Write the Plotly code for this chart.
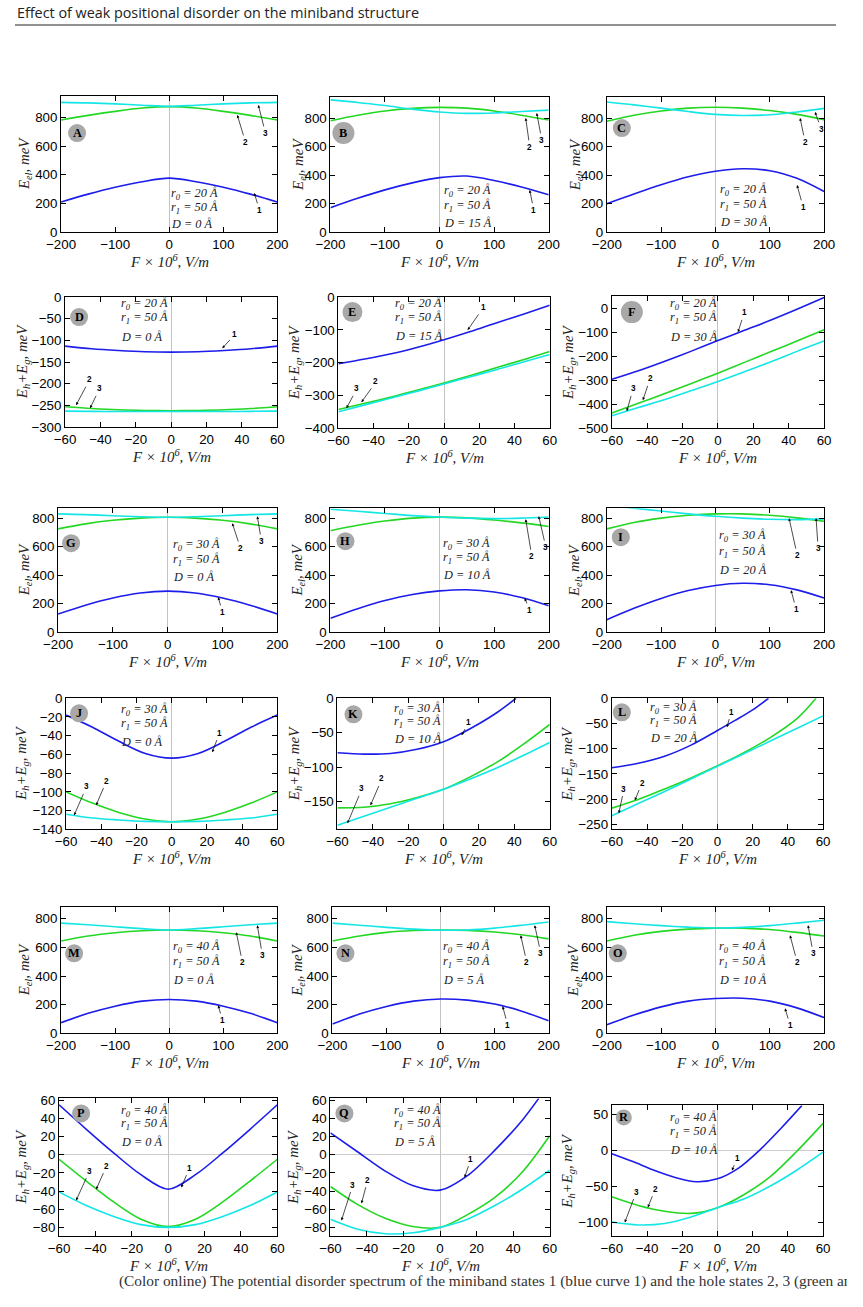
import plotly.graph_objects as go

# figure size (the page adds its own margin around it)
W, H = 847, 1289
# measured mapping between figure pixels and the photographed picture
SX, OXP = 0.968, 16.0
SY, OYP = 0.988, 7.0
FS = 1.025  # font compensation

# ---------------- data ----------------
X_EL = [-200, -150, -100, -50, 0, 50, 100, 150, 200]
X_H = [-60, -45, -30, -15, 0, 15, 30, 45, 60]

A1 = [210, 265, 313, 352, 377, 352, 313, 265, 210]
A2 = [783, 815, 843, 866, 876, 866, 843, 815, 783]
A3 = [906, 902, 895, 886, 878, 886, 895, 902, 906]

B1 = [172, 238, 297, 346, 383, 394, 363, 317, 262]
B2 = [783, 822, 852, 870, 877, 872, 852, 822, 788]
B3 = [930, 912, 890, 865, 845, 835, 838, 848, 858]

C1 = [200, 268, 333, 389, 428, 445, 432, 378, 285]
C2 = [780, 822, 852, 872, 878, 872, 855, 828, 790]
C3 = [915, 895, 872, 848, 828, 820, 825, 845, 870]

D1 = [-113, -119, -123, -126, -127, -126, -123, -119, -113]
D2 = [-253, -257, -260, -261.5, -262, -261.5, -260, -257, -253]
D3 = [-263, -263.5, -264, -264, -264, -264, -264, -263.5, -263]

E1 = [-203, -189, -173, -153, -130, -105, -78, -52, -25]
E2 = [-343, -324, -305, -284, -262, -239, -215, -191, -166]
E3 = [-350, -329, -308, -287, -265, -243, -221, -198, -175]

F1 = [-296, -260, -220, -178, -134, -91, -48, -2, 46]
F2 = [-437, -396, -355, -313, -270, -225, -180, -135, -89]
F3 = [-448, -414, -380, -343, -305, -264, -222, -178, -136]

G1 = [128, 190, 240, 275, 288, 275, 240, 190, 128]
G2 = [725, 760, 785, 800, 806, 800, 785, 760, 725]
G3 = [830, 825, 817, 810, 806, 810, 817, 825, 830]

H1 = [98, 165, 222, 265, 290, 298, 282, 243, 185]
H2 = [712, 750, 780, 800, 807, 802, 787, 767, 742]
H3 = [862, 848, 833, 818, 808, 800, 797, 800, 808]

I1 = [88, 168, 237, 292, 328, 343, 333, 297, 240]
I2 = [725, 770, 800, 820, 830, 830, 820, 802, 778]
I3 = [890, 870, 850, 830, 813, 800, 792, 790, 795]

J1 = [-18, -31, -46, -59, -64, -59, -46, -31, -18]
J2 = [-100, -112, -122, -129, -132, -129, -122, -112, -100]
J3 = [-124, -128, -130, -131.5, -132, -131.5, -130, -128, -124]

K_X1 = [-60, -45, -30, -15, 0, 10, 20, 30, 41]
K1 = [-79, -81, -80, -74, -63, -51, -37, -21, 0]
K2 = [-159, -158, -153, -144, -132, -114, -93, -67, -38]
K3 = [-184, -171, -158, -145, -132, -117, -101, -83, -64]

L_X1 = [-60, -45, -30, -15, 0, 10, 20, 29]
L1 = [-138, -129, -115, -93, -64, -44, -23, 0]
L_X2 = [-60, -45, -30, -15, 0, 15, 30, 45, 56]
L2 = [-218, -201, -180, -158, -134, -108, -78, -41, 0]
L3 = [-233, -209, -185, -160, -135, -110, -85, -60, -35]

M1 = [75, 140, 190, 225, 237, 225, 190, 140, 75]
M2 = [645, 680, 703, 717, 722, 717, 703, 680, 645]
M3 = [770, 758, 744, 731, 722, 731, 744, 758, 770]

N1 = [65, 135, 188, 225, 240, 232, 205, 155, 88]
N2 = [645, 680, 705, 718, 722, 719, 708, 688, 660]
N3 = [770, 755, 740, 728, 720, 722, 735, 755, 778]

O1 = [60, 128, 185, 225, 243, 245, 225, 178, 110]
O2 = [645, 685, 712, 728, 735, 735, 725, 705, 680]
O3 = [780, 765, 752, 742, 736, 740, 752, 770, 790]

P1 = [55, 28, 2, -22, -38, -22, 2, 28, 55]
P2 = [-5, -29, -52, -71, -79, -71, -52, -29, -5]
P3 = [-41, -56, -68, -77, -80, -77, -68, -56, -41]

Q_X1 = [-60, -45, -30, -15, 0, 15, 30, 45, 54]
Q1 = [24, 3, -18, -34, -39, -23, 5, 38, 62]
Q2 = [-35, -55, -70, -79, -80, -66, -47, -19, 21]
Q3 = [-71, -82, -87, -86, -80, -71, -56, -38, -17]

R_X1 = [-60, -48, -36, -24, -12, 0, 12, 24, 36, 48]
R1 = [-5, -16, -28, -38, -44, -40, -25, 0, 30, 62]
R2 = [-65, -77, -85, -88, -80, -62, -37, -2, 37]
R3 = [-100, -104, -102, -93, -80, -68, -50, -28, -3]

PANEL_LETTERS = list("ABCDEFGHIJKLMNOPQR")
R0_VALUES = [20, 20, 20, 20, 20, 20, 30, 30, 30, 30, 30, 30, 40, 40, 40, 40, 40, 40]
R1_VALUES = [50] * 18
D_VALUES = [0, 15, 30, 0, 15, 30, 0, 10, 20, 0, 10, 20, 0, 5, 10, 0, 5, 10]

TITLE = "Effect of weak positional disorder on the miniband structure"
CAPTION = ("(Color online) The potential disorder spectrum of the miniband states 1 "
           "(blue curve 1) and the hole states 2, 3 (green and cyan")

# ---------------- styling ----------------
BLUE = "rgb(28,28,235)"
GREEN = "rgb(35,215,35)"
CYAN = "rgb(20,230,230)"
COLORS = [BLUE, GREEN, CYAN]


def fx(x):
    return (x - OXP) / SX


def fy(y):
    return (y - OYP) / SY


def px(x):
    return fx(x) / W


def py(y):
    return 1 - fy(y) / H


panels = [
    dict(box=(62, 278, 96, 232), xr=[-200, 200], yr=[0, 950], dx=100, dy=200, kind="el",
         curves=[(X_EL, A1), (X_EL, A2), (X_EL, A3)]),
    dict(box=(331, 549, 97, 232), xr=[-200, 200], yr=[0, 950], dx=100, dy=200, kind="el",
         curves=[(X_EL, B1), (X_EL, B2), (X_EL, B3)]),
    dict(box=(607, 824, 97, 232), xr=[-200, 200], yr=[0, 950], dx=100, dy=200, kind="el",
         curves=[(X_EL, C1), (X_EL, C2), (X_EL, C3)]),
    dict(box=(66, 278, 297, 427), xr=[-60, 60], yr=[-300, 0], dx=20, dy=50, kind="h",
         curves=[(X_H, D1), (X_H, D2), (X_H, D3)]),
    dict(box=(339, 550, 297, 428), xr=[-60, 60], yr=[-400, 0], dx=20, dy=100, kind="h",
         curves=[(X_H, E1), (X_H, E2), (X_H, E3)]),
    dict(box=(612, 824, 296, 428), xr=[-60, 60], yr=[-500, 52], dx=20, dy=100, kind="h",
         curves=[(X_H, F1), (X_H, F2), (X_H, F3)]),
    dict(box=(59, 278, 508, 632), xr=[-200, 200], yr=[0, 870], dx=100, dy=200, kind="el",
         curves=[(X_EL, G1), (X_EL, G2), (X_EL, G3)]),
    dict(box=(331, 549, 508, 632), xr=[-200, 200], yr=[0, 870], dx=100, dy=200, kind="el",
         curves=[(X_EL, H1), (X_EL, H2), (X_EL, H3)]),
    dict(box=(607, 824, 508, 632), xr=[-200, 200], yr=[0, 870], dx=100, dy=200, kind="el",
         curves=[(X_EL, I1), (X_EL, I2), (X_EL, I3)]),
    dict(box=(67, 278, 698, 829), xr=[-60, 60], yr=[-140, 0], dx=20, dy=20, kind="h",
         curves=[(X_H, J1), (X_H, J2), (X_H, J3)]),
    dict(box=(338, 550, 698, 829), xr=[-60, 60], yr=[-190, 0], dx=20, dy=50, kind="h",
         curves=[(K_X1, K1), (X_H, K2), (X_H, K3)]),
    dict(box=(612, 823, 698, 829), xr=[-60, 60], yr=[-260, 0], dx=20, dy=50, kind="h",
         curves=[(L_X1, L1), (L_X2, L2), (X_H, L3)]),
    dict(box=(62, 278, 907, 1033), xr=[-200, 200], yr=[0, 880], dx=100, dy=200, kind="el",
         curves=[(X_EL, M1), (X_EL, M2), (X_EL, M3)]),
    dict(box=(333, 549, 907, 1033), xr=[-200, 200], yr=[0, 880], dx=100, dy=200, kind="el",
         curves=[(X_EL, N1), (X_EL, N2), (X_EL, N3)]),
    dict(box=(607, 824, 907, 1033), xr=[-200, 200], yr=[0, 880], dx=100, dy=200, kind="el",
         curves=[(X_EL, O1), (X_EL, O2), (X_EL, O3)]),
    dict(box=(60, 278, 1098, 1236), xr=[-60, 60], yr=[-90, 62], dx=20, dy=20, kind="h", hz=True,
         curves=[(X_H, P1), (X_H, P2), (X_H, P3)]),
    dict(box=(331, 550, 1098, 1236), xr=[-60, 60], yr=[-90, 62], dx=20, dy=20, kind="h", hz=True,
         curves=[(Q_X1, Q1), (X_H, Q2), (X_H, Q3)]),
    dict(box=(612, 823, 1105, 1236), xr=[-60, 60], yr=[-120, 62], dx=20, dy=50, kind="h", hz=True,
         curves=[(R_X1, R1), (X_H, R2), (X_H, R3)]),
]

label_pos = [
    [(260, 210, 255, 193), (246, 142, 238, 115), (266, 133, 259, 105)],
    [(534, 210, 530, 190), (530, 147, 526, 118), (542, 140, 537, 113)],
    [(803, 207, 797, 185), (805, 142, 800, 118), (821, 129, 815, 112)],
    [(235, 335, 223, 348), (90, 380, 77, 405), (100, 389, 91, 408)],
    [(483, 308, 468, 330), (376, 382, 362, 402), (357, 389, 347, 408)],
    [(744, 313, 738, 332), (650, 379, 643, 400), (633, 389, 627, 411)],
    [(223, 612, 219, 597), (241, 548, 233, 523), (262, 541, 258, 516)],
    [(530, 610, 525, 598), (532, 556, 526, 519), (546, 547, 539, 516)],
    [(796, 609, 791, 590), (797, 555, 789, 518), (818, 548, 816, 518)],
    [(220, 733, 213, 752), (107, 781, 97, 805), (87, 787, 75, 815)],
    [(469, 722, 462, 735), (382, 779, 371, 805), (362, 789, 348, 823)],
    [(731, 712, 727, 727), (642, 783, 635, 800), (624, 789, 619, 813)],
    [(223, 1020, 219, 1005), (243, 962, 237, 932), (263, 955, 258, 925)],
    [(508, 1025, 503, 1006), (527, 962, 521, 935), (541, 953, 535, 925)],
    [(790, 1025, 785, 1008), (797, 962, 790, 935), (813, 953, 808, 925)],
    [(190, 1168, 182, 1187), (107, 1166, 97, 1189), (90, 1171, 77, 1200)],
    [(471, 1159, 465, 1177), (368, 1180, 362, 1203), (353, 1185, 342, 1220)],
    [(737, 1158, 732, 1170), (655, 1189, 648, 1207), (636, 1192, 625, 1222)],
]

param_pos = [
    (170, (194, 208, 224)), (442, (191, 206, 223)), (718, (190, 205, 222)),
    (120, (304, 318, 337)), (393, (304, 318, 336)), (668, (304, 318, 337)),
    (172, (545, 560, 577)), (441, (544, 558, 575)), (717, (536, 552, 570)),
    (120, (710, 724, 742)), (392, (709, 722, 739)), (648, (708, 721, 738)),
    (172, (947, 962, 980)), (441, (947, 962, 980)), (717, (947, 962, 980)),
    (120, (1111, 1124, 1142)), (392, (1111, 1124, 1142)), (668, (1118, 1132, 1150)),
]

badge_pos = [
    (78, 133, 9), (344, 133, 11), (622, 128, 9),
    (80, 317, 9), (353, 312, 10), (632, 312, 11),
    (72, 543, 9), (346, 541, 9), (621, 537, 9),
    (80, 713, 9), (354, 714, 9), (622, 712, 9),
    (75, 953, 9), (346, 953, 9), (618, 953, 9),
    (82, 1113, 9), (345, 1113, 9), (624, 1117, 8),
]

ytitle_x = [26, 299, 576, 24, 295, 569, 26, 299, 575, 23, 295, 568, 26, 299, 575, 23, 295, 568]

fig = go.Figure()
layout = dict(width=W, height=H, margin=dict(l=0, r=0, t=0, b=0),
              paper_bgcolor="white", plot_bgcolor="white", showlegend=False)
annotations = []
shapes = []

TICKFONT = dict(family="Liberation Sans, Arial, sans-serif", size=13 * FS, color="black")
SERIF = "Liberation Serif, Times New Roman, serif"

for i, p in enumerate(panels):
    n = i + 1
    xname = "xaxis" if n == 1 else f"xaxis{n}"
    yname = "yaxis" if n == 1 else f"yaxis{n}"
    xref = "x" if n == 1 else f"x{n}"
    yref = "y" if n == 1 else f"y{n}"
    l, r, t, b = p["box"]
    common = dict(showline=True, linecolor="black", linewidth=1, mirror="ticks",
                  ticks="inside", ticklen=5, tickwidth=1, tickcolor="black",
                  showgrid=False, tickfont=TICKFONT)
    layout[xname] = dict(domain=[max(0, px(l)), min(1, px(r))], anchor=yref, range=p["xr"],
                         tick0=0, dtick=p["dx"], zeroline=True,
                         zerolinecolor="rgb(195,195,195)", zerolinewidth=1.3, **common)
    layout[yname] = dict(domain=[py(b), py(t)], anchor=xref, range=p["yr"],
                         tick0=0, dtick=p["dy"], zeroline=bool(p.get("hz", False)),
                         zerolinecolor="rgb(205,205,205)", zerolinewidth=1.3, **common)
    for (xs, ys), col in zip(p["curves"], COLORS):
        fig.add_trace(go.Scatter(x=xs, y=ys, mode="lines", xaxis=xref, yaxis=yref,
                                 line=dict(color=col, width=1.6, shape="spline", smoothing=0.9),
                                 hoverinfo="skip"))
    for k, (lx, ly, tx, ty) in enumerate(label_pos[i]):
        annotations.append(dict(x=px(tx), y=py(ty), xref="paper", yref="paper",
                                text=f"<b>{k + 1}</b>", showarrow=True,
                                ax=fx(lx) - fx(tx), ay=fy(ly) - fy(ty),
                                arrowhead=2, arrowsize=0.8, arrowwidth=0.7, arrowcolor="black",
                                standoff=0, startstandoff=1,
                                font=dict(family="Liberation Sans, Arial", size=8 * FS,
                                          color="black")))
    ptx, pys = param_pos[i]
    lines = [f"r<sub>0</sub> = {R0_VALUES[i]} Å", f"r<sub>1</sub> = {R1_VALUES[i]} Å",
             f"D = {D_VALUES[i]} Å"]
    for txt, yy in zip(lines, pys):
        annotations.append(dict(x=px(ptx), y=py(yy), xref="paper", yref="paper",
                                text=f"<i>{txt}</i>", showarrow=False, xanchor="left",
                                yanchor="middle",
                                font=dict(family=SERIF, size=12 * FS, color="#222")))
    cx, cy, rr = badge_pos[i]
    shapes.append(dict(type="circle", xref="paper", yref="paper",
                       x0=px(cx - rr), x1=px(cx + rr), y0=py(cy + rr), y1=py(cy - rr),
                       fillcolor="rgb(168,168,168)", line=dict(width=0), layer="above"))
    annotations.append(dict(x=px(cx), y=py(cy), xref="paper", yref="paper",
                            text=f"<b>{PANEL_LETTERS[i]}</b>", showarrow=False,
                            xanchor="center", yanchor="middle",
                            font=dict(family=SERIF, size=12 * FS, color="black")))
    annotations.append(dict(x=px((l + r) / 2), y=py(b + 29), xref="paper", yref="paper",
                            text="<i>F × 10<sup>6</sup>, V/m</i>", showarrow=False,
                            xanchor="center", yanchor="middle",
                            font=dict(family=SERIF, size=14.5 * FS, color="#222")))
    ytxt = "<i>E<sub>el</sub>, meV</i>" if p["kind"] == "el" else "<i>E<sub>h</sub>+E<sub>g</sub>, meV</i>"
    annotations.append(dict(x=px(ytitle_x[i]), y=py((t + b) / 2), xref="paper", yref="paper",
                            text=ytxt, showarrow=False, textangle=-90,
                            xanchor="center", yanchor="middle",
                            font=dict(family=SERIF, size=14.5 * FS, color="#222")))

annotations.append(dict(x=0, y=py(12), xref="paper", yref="paper", text=TITLE,
                        showarrow=False, xanchor="left", yanchor="middle",
                        font=dict(family="Open Sans, sans-serif", size=14 * FS, color="#222")))
shapes.append(dict(type="line", xref="paper", yref="paper", x0=0, x1=1,
                   y0=py(25), y1=py(25), line=dict(color="#222", width=1)))
annotations.append(dict(x=px(118), y=0, xref="paper", yref="paper", text=CAPTION,
                        showarrow=False, xanchor="left", yanchor="middle",
                        font=dict(family=SERIF, size=15 * FS, color="#333")))

layout["annotations"] = annotations
layout["shapes"] = shapes
fig.update_layout(**layout)
fig.write_html("out.html")
